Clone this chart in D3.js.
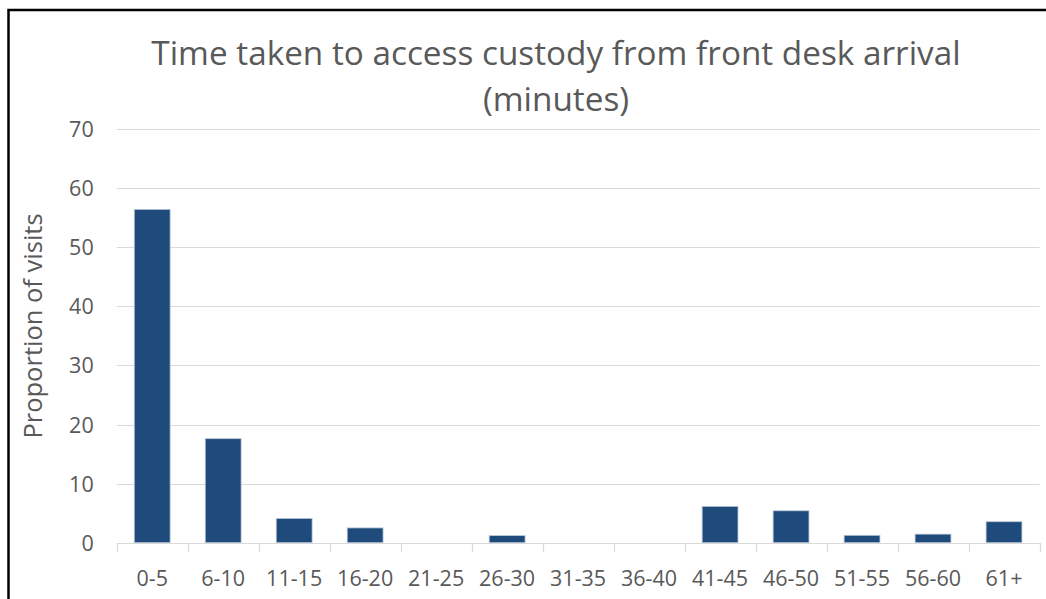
<!DOCTYPE html>
<html>
<head>
<meta charset="utf-8">
<script src="https://cdn.jsdelivr.net/npm/d3@7"></script>
<style>
  html, body { margin: 0; padding: 0; background: #fff; }
  svg { display: block; }
  text { font-family: "Open Sans", "Noto Sans", sans-serif; fill: #595959; }
</style>
</head>
<body>
<svg id="chart" width="1046" height="599"></svg>
<script>
// Waiting-time bands (minutes) and share of visits in each band
const categories = ["0-5", "6-10", "11-15", "16-20", "21-25", "26-30", "31-35",
                    "36-40", "41-45", "46-50", "51-55", "56-60", "61+"];
const values = [56.4, 17.6, 4.1, 2.5, 0, 1.2, 0, 0, 6.15, 5.4, 1.25, 1.45, 3.55];
const yTicks = [0, 10, 20, 30, 40, 50, 60, 70];
const titleLines = ["Time taken to access custody from front desk arrival", "(minutes)"];
const yAxisTitle = "Proportion of visits";

const svg = d3.select("#chart");
const W = 1046, H = 599;
const plot = { left: 116.7, right: 1039.5, top: 129, bottom: 542.7 };

// frame around the chart (left and top edges)
svg.append("path")
  .attr("d", `M8.5,${H} V10 H${W}`)
  .attr("fill", "none")
  .attr("stroke", "#000")
  .attr("stroke-width", 2.5);

const x = d3.scaleBand()
  .domain(categories)
  .range([plot.left, plot.right])
  .paddingInner(0.495)
  .paddingOuter(0.2475);

const y = d3.scaleLinear()
  .domain([0, 70])
  .range([plot.bottom, plot.top]);

// horizontal gridlines
svg.append("g")
  .selectAll("line")
  .data(yTicks.filter(t => t > 0))
  .join("line")
  .attr("x1", plot.left)
  .attr("x2", plot.right)
  .attr("y1", d => Math.round(y(d)) + 0.5)
  .attr("y2", d => Math.round(y(d)) + 0.5)
  .attr("stroke", "#d9d9d9")
  .attr("stroke-width", 1);

// y-axis tick labels
const yAxis = d3.axisLeft(y).tickValues(yTicks).tickSize(0).tickPadding(0);
const gy = svg.append("g")
  .attr("transform", `translate(${plot.left - 23},0)`)
  .call(yAxis);
gy.select(".domain").remove();
gy.selectAll("text")
  .style("font-size", "21.5px")
  .style("font-family", "'Open Sans', 'Noto Sans', sans-serif")
  .style("fill", "#595959")
  .attr("dy", "0.35em");

// bars
svg.append("g")
  .selectAll("rect")
  .data(categories.map((c, i) => ({ c, v: values[i] })).filter(d => d.v > 0))
  .join("rect")
  .attr("x", d => x(d.c))
  .attr("width", x.bandwidth())
  .attr("y", d => y(d.v))
  .attr("height", d => y(0) - y(d.v))
  .attr("fill", "#1f4a7c")
  .attr("stroke", "#b9c7d8")
  .attr("stroke-width", 0.8);

// category axis with boundary ticks
const bounds = categories.map(c => x(c) - x.step() * x.paddingInner() / 2);
bounds.push(plot.right);
const gx = svg.append("g");
gx.append("line")
  .attr("x1", plot.left).attr("x2", plot.right)
  .attr("y1", Math.round(y(0)) + 0.5).attr("y2", Math.round(y(0)) + 0.5)
  .attr("stroke", "#d9d9d9").attr("stroke-width", 1.2);
gx.selectAll("line.tick")
  .data(bounds)
  .join("line")
  .attr("class", "tick")
  .attr("x1", d => Math.round(d) + 0.5).attr("x2", d => Math.round(d) + 0.5)
  .attr("y1", Math.round(y(0))).attr("y2", Math.round(y(0)) + 9)
  .attr("stroke", "#d9d9d9").attr("stroke-width", 1.2);
gx.selectAll("text")
  .data(categories)
  .join("text")
  .attr("x", d => x(d) + x.bandwidth() / 2)
  .attr("y", 586)
  .attr("text-anchor", "middle")
  .style("font-size", "21.5px")
  .text(d => d);

// y-axis title
svg.append("text")
  .attr("transform", `translate(42,${(215 + 437) / 2}) rotate(-90)`)
  .attr("text-anchor", "middle")
  .style("font-size", "25.5px")
  .text(yAxisTitle);

// chart title
svg.append("g")
  .selectAll("text")
  .data(titleLines)
  .join("text")
  .attr("x", 556)
  .attr("y", (d, i) => 65 + i * 46)
  .attr("text-anchor", "middle")
  .style("font-size", "33.3px")
  .text(d => d);
</script>
</body>
</html>
